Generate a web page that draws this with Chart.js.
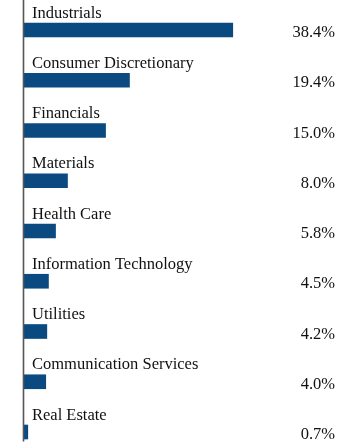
<!DOCTYPE html>
<html>
<head>
<meta charset="utf-8">
<script src="https://cdn.jsdelivr.net/npm/chart.js@4/dist/chart.umd.min.js"></script>
<style>
  html, body { margin: 0; padding: 0; background: #fff; }
  #wrap { width: 360px; height: 447px; position: relative; }
</style>
</head>
<body>
<div id="wrap"><canvas id="sectors"></canvas></div>
<script>
var sectors = ['Industrials', 'Consumer Discretionary', 'Financials', 'Materials', 'Health Care',
  'Information Technology', 'Utilities', 'Communication Services', 'Real Estate']
var weights = [38.4, 19.4, 15.0, 8.0, 5.8, 4.5, 4.2, 4.0, 0.7]
var weightLabels = ['38.4%', '19.4%', '15.0%', '8.0%', '5.8%', '4.5%', '4.2%', '4.0%', '0.7%']

var FONT = '16.5px "Liberation Serif", "Times New Roman", serif'

// category name above each bar, percentage at the right edge
var barText = {
  id: 'barText',
  afterDatasetsDraw: function(chart){
    var ctx = chart.ctx
    var x0 = chart.scales.x.getPixelForValue(0)
    var bars = chart.getDatasetMeta(0).data
    ctx.save()
    ctx.font = FONT
    ctx.fillStyle = '#111'
    bars.forEach(function(bar, i){
      ctx.textAlign = 'left'
      ctx.textBaseline = 'alphabetic'
      ctx.fillText(sectors[i], x0 + 8, bar.y - 12.5)
      ctx.textAlign = 'right'
      ctx.textBaseline = 'alphabetic'
      ctx.fillText(weightLabels[i], chart.chartArea.right, bar.y + 7)
    })
    // vertical axis line
    var last = bars[bars.length - 1]
    ctx.strokeStyle = '#555'
    ctx.lineWidth = 1.6
    ctx.beginPath()
    ctx.moveTo(x0 - 0.5, 0)
    ctx.lineTo(x0 - 0.5, last.y + 9.5)
    ctx.stroke()
    ctx.restore()
  }
}

new Chart(document.getElementById('sectors'), {
  type: 'bar',
  data: {
    labels: sectors,
    datasets: [{
      data: weights,
      backgroundColor: '#0b4a80',
      borderWidth: 0,
      barThickness: 14,
      clip: false
    }]
  },
  options: {
    indexAxis: 'y',
    responsive: true,
    maintainAspectRatio: false,
    animation: false,
    layout: { padding: { left: 24, right: 25, top: 30, bottom: 15 } },
    plugins: { legend: { display: false }, tooltip: { enabled: false } },
    scales: {
      x: { display: false, min: 0, max: 57.2 },
      y: { display: false, offset: false }
    }
  },
  plugins: [barText]
})
</script>
</body>
</html>
